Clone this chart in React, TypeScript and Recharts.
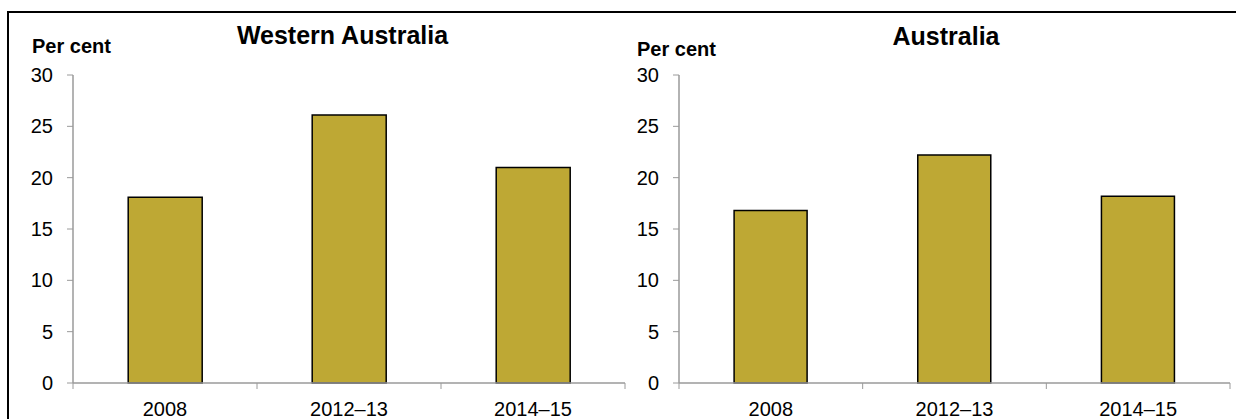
import { Bar, BarChart, XAxis, YAxis } from "recharts"

const categories = ["2008", "2012–13", "2014–15"]
const waValues = [18.1, 26.1, 21.0]
const ausValues = [16.8, 22.2, 18.2]
const yTicks = [0, 5, 10, 15, 20, 25, 30]

const axisGray = "#9a9a9a"
const barGold = "#bea834"
const font = "'Liberation Sans', Arial, sans-serif"
const yAxisWidth = 73

type PanelProps = {
  values: number[]
  left: number
  width: number
  marginRight: number
}

// category tick: label at the centre, tick marks at the band edges
function makeTick(band: number) {
  return function CatTick(props: any) {
    const { x, y, payload, index } = props
    const half = band / 2
    const top = y - 19
    return (
      <g>
        <line x1={x - half} y1={top} x2={x - half} y2={top + 6} stroke={axisGray} />
        {index === categories.length - 1 && (
          <line x1={x + half} y1={top} x2={x + half} y2={top + 6} stroke={axisGray} />
        )}
        <text x={x} y={y} dy="0.71em" textAnchor="middle" fill="#000" fontSize={20} fontFamily={font}>
          {payload.value}
        </text>
      </g>
    )
  }
}

function Panel({ values, left, width, marginRight }: PanelProps) {
  const data = categories.map((name, i) => ({ name, value: values[i] }))
  const band = (width - yAxisWidth - marginRight) / categories.length
  return (
    <div style={{ position: "absolute", left, top: 0 }}>
      <BarChart
        width={width}
        height={419}
        data={data}
        margin={{ top: 75, right: marginRight, bottom: 0, left: 0 }}
        barCategoryGap="30%"
      >
        <XAxis
          dataKey="name"
          height={36}
          tickLine={false}
          tickSize={0}
          tickMargin={19}
          axisLine={{ stroke: axisGray, strokeWidth: 1.5 }}
          tick={makeTick(band)}
          interval={0}
        />
        <YAxis
          width={yAxisWidth}
          domain={[0, 30]}
          ticks={yTicks}
          interval={0}
          tickSize={6}
          tickMargin={14}
          axisLine={{ stroke: axisGray, strokeWidth: 1.5 }}
          tickLine={{ stroke: axisGray }}
          tick={{ fill: "#000", fontSize: 20, fontFamily: font }}
        />
        <Bar dataKey="value" fill={barGold} stroke="#000" strokeWidth={1.5} isAnimationActive={false} />
      </BarChart>
    </div>
  )
}

export default function App() {
  return (
    <div
      style={{
        position: "absolute",
        left: 0,
        top: 0,
        width: 1236,
        height: 419,
        overflow: "hidden",
        background: "#fff",
      }}
    >
      <Panel values={waValues} left={0} width={640} marginRight={15} />
      <Panel values={ausValues} left={606} width={630} marginRight={6} />
      <div
        style={{
          position: "absolute",
          left: 7,
          top: 11,
          width: 1229,
          height: 408,
          borderTop: "2px solid #000",
          borderLeft: "2px solid #000",
          boxSizing: "border-box",
          pointerEvents: "none",
        }}
      />
      <svg
        width={1236}
        height={419}
        style={{ position: "absolute", left: 0, top: 0, pointerEvents: "none" }}
      >
        <g fontFamily={font} fontWeight="bold" fill="#000">
          <text x={32} y={53} fontSize={20}>Per cent</text>
          <text x={637} y={56} fontSize={20}>Per cent</text>
          <text x={342.5} y={44} fontSize={25} textAnchor="middle">Western Australia</text>
          <text x={946} y={45} fontSize={25} textAnchor="middle">Australia</text>
        </g>
      </svg>
    </div>
  )
}
